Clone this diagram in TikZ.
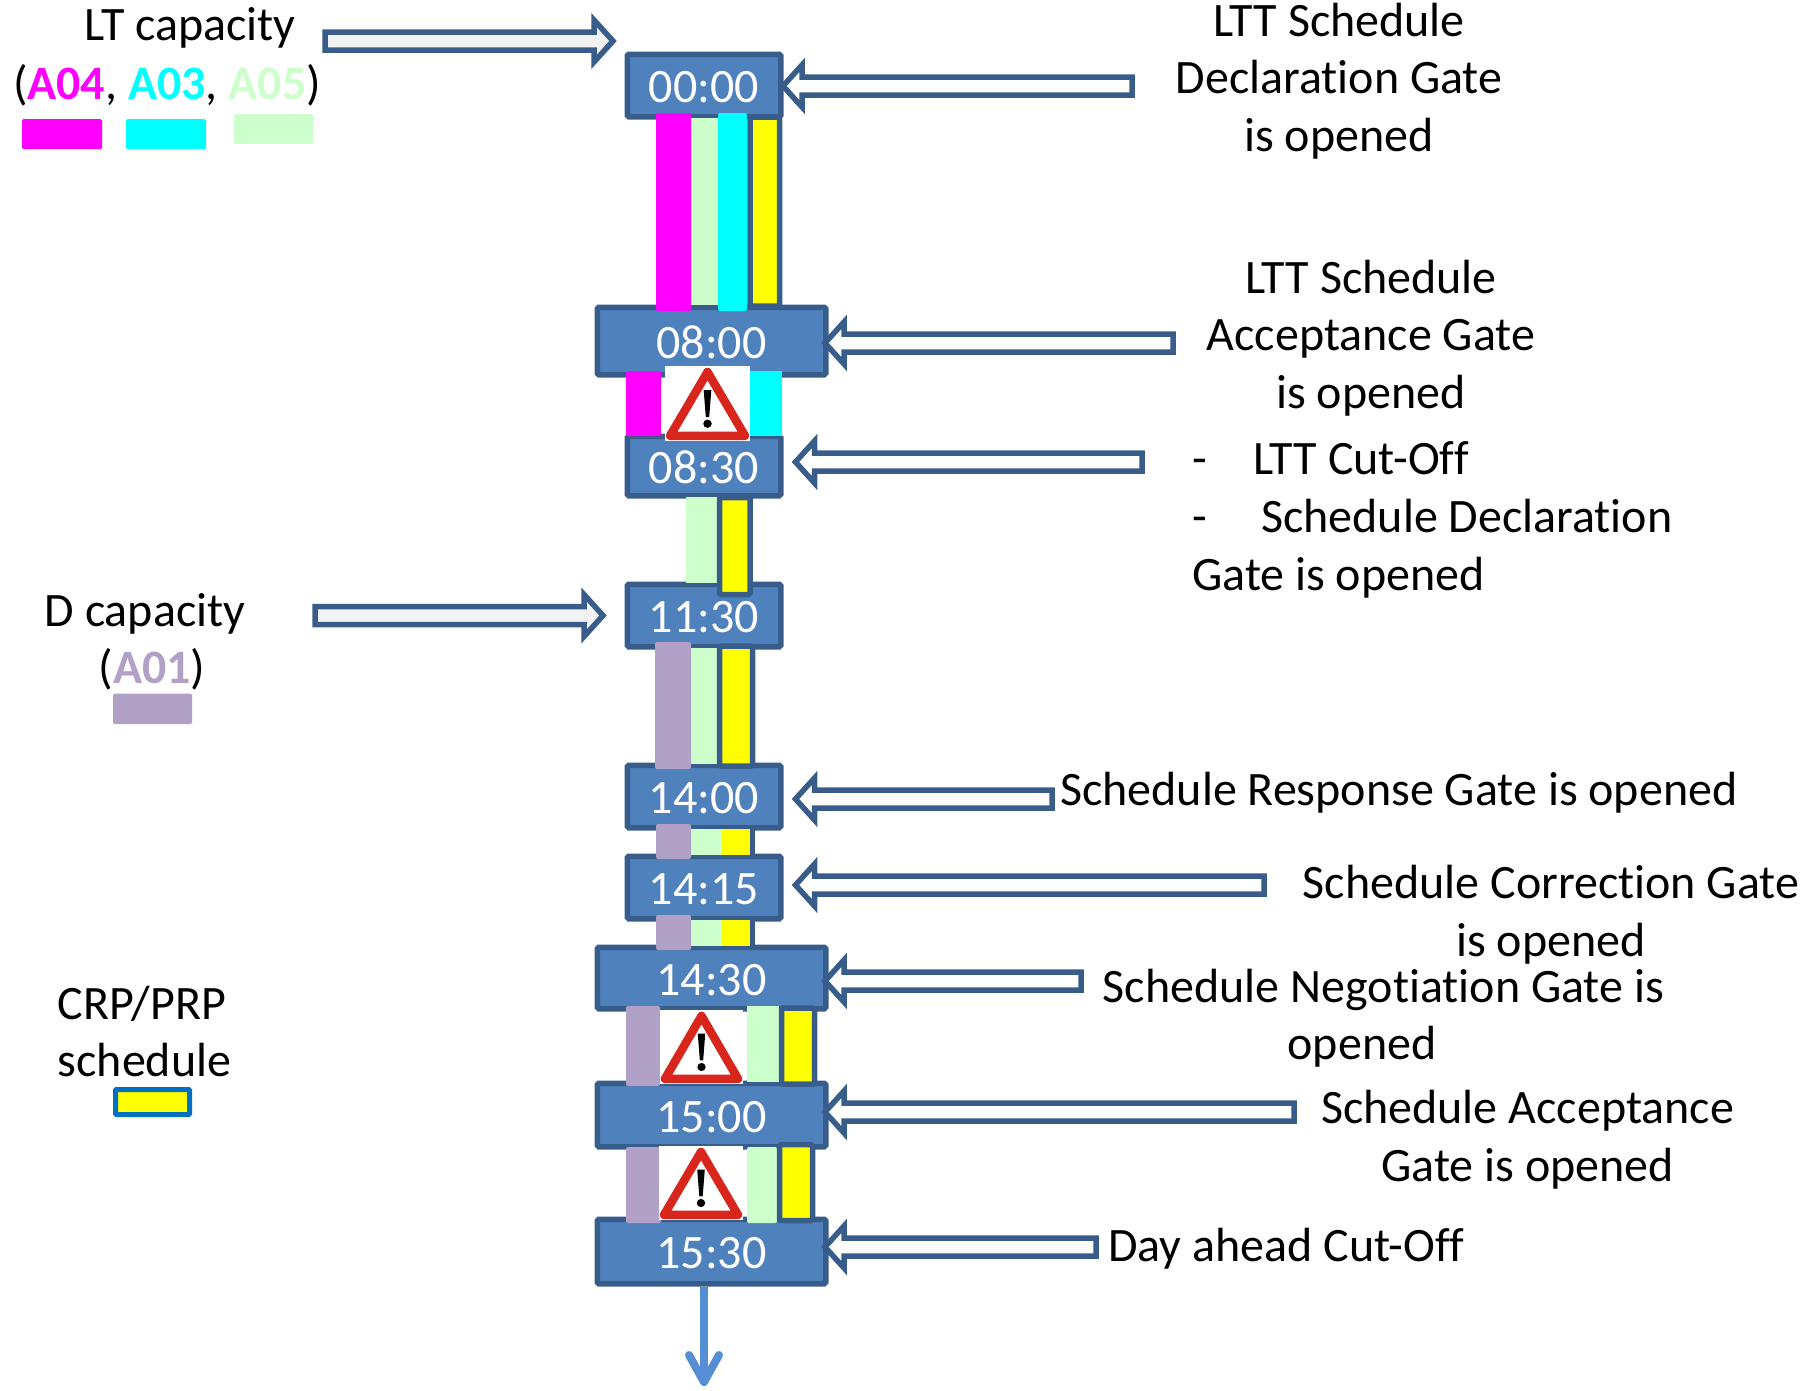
\documentclass[tikz,border=0pt]{standalone}
\usepackage{fontspec}
\setmainfont[Ligatures=NoCommon]{Carlito}
\usetikzlibrary{calc,arrows.meta}
\definecolor{boxfill}{HTML}{4F81BD}
\definecolor{boxline}{HTML}{385D8A}
\definecolor{cmag}{HTML}{FF00FF}
\definecolor{ccyan}{HTML}{00FFFF}
\definecolor{cyel}{HTML}{FFFF00}
\definecolor{cgreen}{HTML}{CCFFCC}
\definecolor{cpurple}{HTML}{B2A1C7}
\definecolor{warnred}{HTML}{D9261C}
\definecolor{downblue}{HTML}{558ED5}
\definecolor{swline}{HTML}{0070C0}
\definecolor{palefill}{HTML}{F2F2F2}
\tikzset{
  x=1pt,y=-1pt,
  lbl/.style={inner sep=0pt,font=\fontsize{48}{57.6}\selectfont,align=center,text=black},
  timenarrow/.style={draw=boxline,fill=boxfill,line width=5.5pt,rounded corners=1.5pt,minimum width=153.5pt,inner sep=0pt,text=white,text height=34.5pt,text depth=0pt,font=\fontsize{48}{50}\selectfont},
  timewide/.style={timenarrow,minimum width=228.5pt},
  strip/.style={rounded corners=2pt},
  yellowbar/.style={draw=boxline,fill=cyel,line width=5.5pt,rounded corners=1.5pt},
  blockline/.style={draw=boxline,line width=5.5pt,miter limit=10},
}
% tail coordinate, tip coordinate, fill, direction (+1: tip at left; -1: tip at right)
\newcommand{\blockarrow}[4]{%
  \draw[blockline,fill=#3] let \p1=(#1),\p2=(#2),\n1={\x2+(#4)*19pt} in
    (\x2,\y2) -- (\n1,\y2+21pt) -- (\n1,\y2+9pt) -- (\x1,\y2+9pt)
    -- (\x1,\y2-9pt) -- (\n1,\y2-9pt) -- (\n1,\y2-21pt) -- cycle;}
% left, top, right, bottom
\newcommand{\warnsign}[4]{%
  \begin{scope}[shift={(#1,#2)},xscale={(#3-#1)/100},yscale={(#4-#2)/100}]
    \fill[white] (0,0) rectangle (100,100);
    \draw[warnred,line width=8.5pt,line join=round,fill=white] (50,8) -- (94,93) -- (6,93) -- cycle;
    \fill[black] (45.5,32) -- (54.5,32) -- (52,68) -- (48,68) -- cycle;
    \fill[black] (50,77) ellipse[x radius=5,y radius=5.5];
  \end{scope}}
\begin{document}
\begin{tikzpicture}
\useasboundingbox (0,0) rectangle (1806,1390);
% time boxes
\node[timenarrow,minimum height=62.5pt] (t0000) at (704,85.5) {00:00};
\node[timewide,minimum height=67.5pt] (t0800) at (711.5,341) {08:00};
\node[timenarrow,minimum height=59.5pt] (t0830) at (704,466) {08:30};
\node[timenarrow,minimum height=62.5pt] (t1130) at (704,615.5) {11:30};
\node[timenarrow,minimum height=62.5pt] (t1400) at (704,796.5) {14:00};
\node[timenarrow,minimum height=62.5pt] (t1415) at (704,887.5) {14:15};
\node[timewide,minimum height=61.5pt] (t1430) at (711.5,978) {14:30};
\node[timewide,minimum height=63.5pt] (t1500) at (711.5,1115) {15:00};
\node[timewide,minimum height=64.5pt] (t1530) at (711.5,1251.5) {15:30};
% 00:00-08:00
\fill[cgreen] (691,118) rectangle (718,305);
\fill[cmag,strip] (656,113) rectangle (691,311);
\fill[ccyan,strip] (718,113) rectangle (747,311);
\draw[yellowbar] (750,117) rectangle (779.5,306);
% 08:00-08:30
\fill[cmag,strip] (626,371) rectangle (661,436);
\fill[ccyan] (750,371) rectangle (782,436);
\warnsign{665}{366}{750}{441}
% 08:30-11:30
\fill[cgreen] (686,497) rectangle (717,583);
\draw[yellowbar] (719.5,497.5) rectangle (750,594.5);
% 11:30-14:00
\fill[cgreen] (691,648) rectangle (717,764);
\draw[yellowbar] (719.5,646) rectangle (752.5,766);
\fill[cpurple,strip] (655,642) rectangle (691,769);
% 14:00-14:15
\fill[cgreen] (691,829) rectangle (722,855);
\fill[cyel] (722,829) rectangle (750,855);
\draw[boxline,line width=5pt] (752.5,829) -- (752.5,855);
\fill[cpurple,strip] (656,824) rectangle (691,859);
% 14:15-14:30
\fill[cgreen] (691,920) rectangle (722,946);
\fill[cyel] (722,920) rectangle (750,946);
\draw[boxline,line width=5pt] (752.5,920) -- (752.5,946);
\fill[cpurple,strip] (656,915) rectangle (691,950);
% 14:30-15:00
\fill[cpurple,strip] (626,1006) rectangle (660,1086);
\warnsign{660}{1010}{743}{1084}
\fill[cgreen] (747,1006) rectangle (779,1082);
\draw[yellowbar] (781.5,1008) rectangle (814.5,1084);
% 15:00-15:30
\fill[cpurple,strip] (626,1147) rectangle (661,1223);
\warnsign{659}{1146}{743}{1220}
\fill[cgreen,strip] (747,1147) rectangle (777,1223);
\draw[yellowbar] (779.5,1144.5) rectangle (812.5,1220.5);
% down arrow
\coordinate (downend) at (704,1386);
\draw[downblue,line width=8pt,-{Straight Barb[length=27pt,width=30pt,round]}] ([xshift=-7.5pt]t1530.south) -- (downend);
% left legend
\node[lbl] (ltcap) at (190,28) {LT capacity};
\node[lbl] (ltcodes) at (167,85) {(\textbf{\textcolor{cmag}{A04}}, \textbf{\textcolor{ccyan}{A03}}, \textbf{\textcolor{cgreen}{A05}})};
\fill[cmag,rounded corners=1.5pt] (22,119) rectangle (102,149);
\fill[ccyan,rounded corners=1.5pt] (126,119) rectangle (206,149);
\fill[cgreen,rounded corners=1.5pt] (234,114) rectangle (313,144);
\node[lbl] (dcap) at (145,614) {D capacity};
\node[lbl] (dcode) at (152,669) {(\textbf{\textcolor{cpurple}{A01}})};
\fill[cpurple,rounded corners=1.5pt] (113,693.5) rectangle (192,724);
\node[lbl] (crp) at (142,1031.5) {CRP/PRP\\\hspace{5pt}schedule};
\draw[swline,fill=cyel,line width=5pt,rounded corners=1pt] (115.5,1089.5) rectangle (189.5,1114.5);
% right labels
\node[lbl] (lbl0000) at (1339,81) {LTT Schedule\\Declaration Gate\\is opened};
\node[lbl] (lbl0800) at (1371,338) {LTT Schedule\\Acceptance Gate\\is opened};
\node[lbl,anchor=base west] (lbl0830a) at (1192,474) {-};
\node[lbl,anchor=base west] (lbl0830b) at (1253,474) {LTT Cut-Off};
\node[lbl,anchor=base west] (lbl0830c) at (1192,532) {-};
\node[lbl,anchor=base west] (lbl0830d) at (1261,532) {Schedule Declaration};
\node[lbl,anchor=base west] (lbl0830e) at (1192,590) {Gate is opened};
\node[lbl,anchor=west] (lbl1400) at (1060,793) {Schedule Response Gate is opened};
\node[lbl] (lbl1415) at (1551,914.5) {Schedule Correction Gate\\is opened};
\node[lbl] (lbl1430a) at (1383.5,990) {Schedule Negotiation Gate is};
\node[lbl] (lbl1430b) at (1362,1047) {opened};
\node[lbl] (lbl1500) at (1527.5,1139.5) {Schedule Acceptance\\Gate is opened};
\node[lbl,anchor=west] (lbl1530) at (1108,1249) {Day ahead Cut-Off};
% block arrows
\coordinate (ltTail) at (325,41);
\coordinate (ltTip) at (613,41);
\blockarrow{ltTail}{ltTip}{palefill}{-1}
\coordinate (dTail) at (315,615.5);
\coordinate (dTip) at (603,615.5);
\blockarrow{dTail}{dTip}{palefill}{-1}
\coordinate (a0Tail) at (1132,86);
\coordinate (a0Tip) at (783,86);
\blockarrow{a0Tail}{a0Tip}{white}{1}
\coordinate (a1Tail) at (1173,343);
\coordinate (a1Tip) at (825,343);
\blockarrow{a1Tail}{a1Tip}{white}{1}
\coordinate (a2Tail) at (1142,462);
\coordinate (a2Tip) at (795.5,462);
\blockarrow{a2Tail}{a2Tip}{white}{1}
\coordinate (a3Tail) at (1052,799);
\coordinate (a3Tip) at (795.5,799);
\blockarrow{a3Tail}{a3Tip}{white}{1}
\coordinate (a4Tail) at (1264,885);
\coordinate (a4Tip) at (795.5,885);
\blockarrow{a4Tail}{a4Tip}{white}{1}
\coordinate (a5Tail) at (1081,981);
\coordinate (a5Tip) at (825,981);
\blockarrow{a5Tail}{a5Tip}{white}{1}
\coordinate (a6Tail) at (1294,1112);
\coordinate (a6Tip) at (825,1112);
\blockarrow{a6Tail}{a6Tip}{white}{1}
\coordinate (a7Tail) at (1096,1247);
\coordinate (a7Tip) at (825,1247);
\blockarrow{a7Tail}{a7Tip}{white}{1}
\end{tikzpicture}
\end{document}
